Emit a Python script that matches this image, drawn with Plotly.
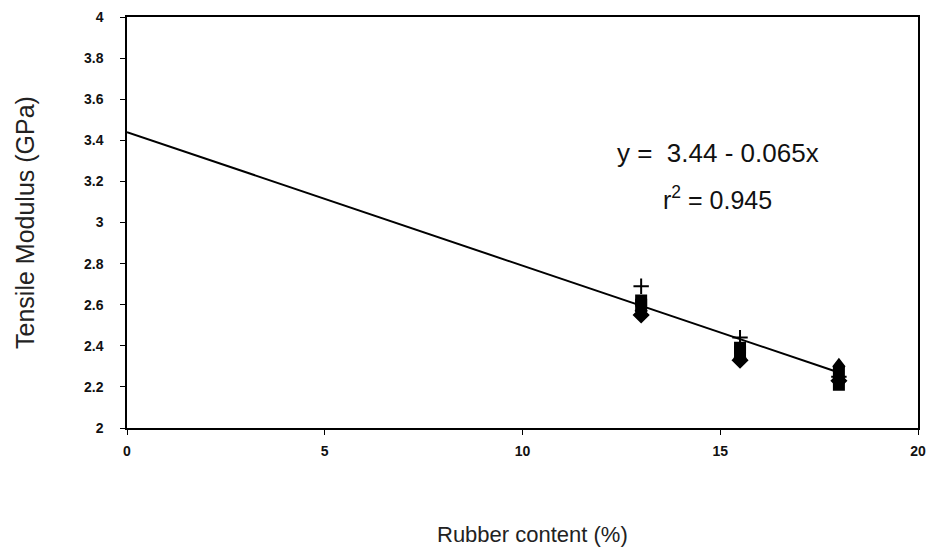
import plotly.graph_objects as go

rubber = [13, 15.5, 18]
s_diamond = [2.55, 2.33, 2.23]
s_square = [2.60, 2.37, 2.21]
s_triangle = [2.58, 2.35, 2.31]
s_block = [2.62, 2.39, 2.27]
s_plus = [2.69, 2.44, 2.25]
fit_x = [0, 18]
intercept = 3.44
slope = -0.065
fit_y = [intercept + slope * v for v in fit_x]

x_ticks = [0, 5, 10, 15, 20]
y_ticks = [2, 2.2, 2.4, 2.6, 2.8, 3, 3.2, 3.4, 3.6, 3.8, 4]
y_tick_text = ["2", "2.2", "2.4", "2.6", "2.8", "3", "3.2", "3.4", "3.6", "3.8", "4"]

fig = go.Figure()
fig.add_trace(go.Scatter(x=fit_x, y=fit_y, mode="lines",
                         line=dict(color="black", width=2), showlegend=False))
series = [
    (s_diamond, "diamond", 11),
    (s_square, "square", 10),
    (s_triangle, "triangle-up", 10),
    (s_block, "square", 10),
    (s_plus, "cross-thin-open", 11),
]
for vals, sym, sz in series:
    fig.add_trace(go.Scatter(x=rubber, y=vals, mode="markers",
                             marker=dict(symbol=sym, size=sz, color="black",
                                         line=dict(color="black", width=2)),
                             showlegend=False))

fig.add_annotation(x=14.95, y=3.34, text="y =  3.44 - 0.065x", showarrow=False,
                   font=dict(family="Liberation Sans, Arial", size=26, color="#111"))
fig.add_annotation(x=14.93, y=3.12, text="r<sup>2</sup> = 0.945", showarrow=False,
                   font=dict(family="Liberation Sans, Arial", size=25, color="#111"))
fig.add_annotation(xref="paper", yref="paper", x=0.513, y=-0.26, yanchor="middle",
                   xanchor="center", text="Rubber content (%)", showarrow=False,
                   font=dict(family="Liberation Sans, Arial", size=22, color="#222"))

tickfont = dict(family="Liberation Sans, Arial", size=14, color="#111", weight="bold")
fig.update_xaxes(range=[0, 20], tickvals=x_ticks, ticks="outside", ticklen=5,
                 tickcolor="black", showline=True, linecolor="black", linewidth=1.5,
                 mirror=True, showgrid=False, zeroline=False, tickfont=tickfont,
                 ticklabelstandoff=4, automargin=False)
fig.update_yaxes(range=[2, 4], tickvals=y_ticks, ticktext=y_tick_text, ticks="outside",
                 ticklen=5, tickcolor="black", showline=True, linecolor="black",
                 linewidth=1.5, mirror=True, showgrid=False, zeroline=False,
                 tickfont=tickfont, ticklabelstandoff=14, automargin=False,
                 title=dict(text="Tensile Modulus (GPa)", standoff=42,
                            font=dict(family="Liberation Sans, Arial", size=25, color="#222")))
fig.update_layout(width=932, height=552, paper_bgcolor="white", plot_bgcolor="white",
                  margin=dict(l=127, r=14, t=17, b=124))
fig.write_html("out.html")
